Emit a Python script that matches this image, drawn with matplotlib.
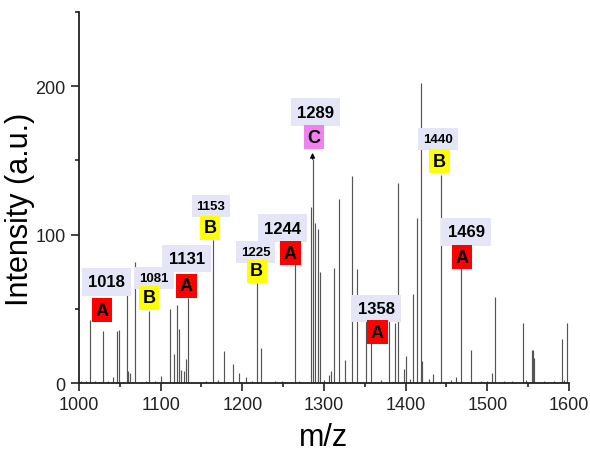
import matplotlib
matplotlib.use("Agg")
import matplotlib.pyplot as plt
from matplotlib.ticker import MultipleLocator

plt.rcParams['font.family'] = ['Liberation Sans', 'DejaVu Sans']

# Peak list (m/z, intensity)
mz = [1003, 1008, 1013.5, 1020, 1024, 1029.8, 1035, 1042, 1047, 1049, 1059, 1060, 1062, 1068,
      1076, 1082, 1085.7, 1093, 1100, 1111, 1116, 1119.6, 1122, 1125, 1129, 1131.6, 1133.9,
      1145, 1156, 1163.7, 1170, 1177, 1188, 1196, 1205, 1212, 1218, 1223, 1240, 1249, 1253,
      1264, 1270, 1283.7, 1288.5, 1293, 1294.5, 1300, 1305.7, 1309, 1311.8, 1318, 1326,
      1334.7, 1340.8, 1351, 1357.5, 1370, 1379.6, 1387.3, 1390.2, 1398, 1400, 1405, 1409.4,
      1413.4, 1418.3, 1420, 1428, 1434, 1442.8, 1455, 1462, 1467.3, 1480, 1492, 1500, 1506,
      1509.8, 1520, 1530, 1544, 1547, 1555, 1556.5, 1557.5, 1570, 1582, 1591, 1594, 1597.5]
inten = [1.5, 1.2, 42.8, 1.5, 1.0, 35.1, 1.2, 4.0, 34.8, 35.8, 59.7, 8.0, 6.8, 81.5,
         1.0, 1.5, 48.4, 1.2, 5.0, 50.0, 19.6, 52.7, 36.5, 9.0, 8.0, 16.2, 57.4,
         1.0, 1.5, 96.6, 2.0, 21.8, 12.8, 6.8, 4.0, 1.2, 67.3, 23.6, 1.5, 1.5, 1.0,
         80.0, 1.5, 118.7, 108.0, 104.0, 75.0, 2.0, 5.4, 8.0, 77.5, 123.9, 15.8,
         139.4, 76.6, 42.0, 35.4, 2.0, 42.0, 40.5, 134.5, 9.5, 18.5, 2.5, 60.0,
         111.5, 202.0, 15.0, 3.0, 6.0, 140.0, 2.0, 4.0, 77.5, 22.5, 1.5, 1.5, 6.8,
         57.9, 1.5, 1.5, 40.5, 2.0, 22.5, 22.5, 17.0, 1.5, 1.5, 29.7, 2.0, 40.5]

# Arrow-marked peak (C)
arrow_mz = 1286
arrow_top = 157

# Labels: number text, letter, colour, big font?, number position, letter position
lab_num = ['1018', '1081', '1131', '1153', '1225', '1244', '1289', '1358', '1440', '1469']
lab_let = ['A', 'B', 'A', 'B', 'B', 'A', 'C', 'A', 'B', 'A']
lab_big = [True, False, True, False, False, True, True, True, False, True]
num_x = [1033.8, 1091.8, 1132.0, 1161.6, 1216.4, 1249.3, 1289.6, 1364.0, 1439.6, 1473.9]
num_y = [68.2, 70.6, 83.8, 119.6, 88.2, 104.4, 182.5, 50.3, 164.5, 101.8]
let_x = [1027.8, 1085.7, 1131.6, 1160.4, 1217.5, 1259.0, 1287.5, 1365.5, 1441.5, 1469.0]
let_y = [49.0, 57.4, 65.5, 104.7, 75.7, 87.4, 165.7, 34.2, 149.4, 84.9]
let_color = {'A': '#ff0000', 'B': '#ffff00', 'C': '#ee82ee'}

fig = plt.figure(figsize=(5.9, 4.52), dpi=100)
ax = fig.add_axes([0.1339, 0.1504, 0.8305, 0.8208])

ax.vlines(mz, 0, inten, color='#555555', linewidth=0.85)
ax.vlines([arrow_mz], 0, [arrow_top - 6], color='#555555', linewidth=0.85)
ax.annotate('', xy=(arrow_mz, arrow_top), xytext=(arrow_mz, arrow_top - 8),
            arrowprops=dict(arrowstyle='-|>', color='black', lw=0.9, mutation_scale=7))

for t, l, big, nx, ny, lx, ly in zip(lab_num, lab_let, lab_big, num_x, num_y, let_x, let_y):
    ax.text(nx, ny, t, ha='center', va='center', fontsize=12 if big else 9.5,
            fontweight='bold', color='black',
            bbox=dict(boxstyle='square,pad=0.38', fc='#e4e6f7', ec='none'))
    ax.text(lx, ly, l, ha='center', va='center', fontsize=13, fontweight='bold',
            color='black',
            bbox=dict(boxstyle='square,pad=0.2', fc=let_color[l], ec='none'))

ax.set_xlim(1000, 1600)
ax.set_ylim(0, 250)
ax.xaxis.set_major_locator(MultipleLocator(100))
ax.xaxis.set_minor_locator(MultipleLocator(50))
ax.yaxis.set_major_locator(MultipleLocator(100))
ax.yaxis.set_minor_locator(MultipleLocator(50))
for s in ['top', 'right']:
    ax.spines[s].set_visible(False)
for s in ['left', 'bottom']:
    ax.spines[s].set_linewidth(1.3)
    ax.spines[s].set_color('#222222')
ax.tick_params(which='major', length=6, width=1.2, labelsize=13, colors='#222222')
ax.tick_params(which='minor', length=3, width=1.2, colors='#222222')
ax.set_xlabel('m/z', fontsize=22, labelpad=6)
ax.set_ylabel('Intensity (a.u.)', fontsize=22, va='center')
ax.yaxis.set_label_coords(-0.12, 0.47)

fig.savefig('out.png', dpi=100)
